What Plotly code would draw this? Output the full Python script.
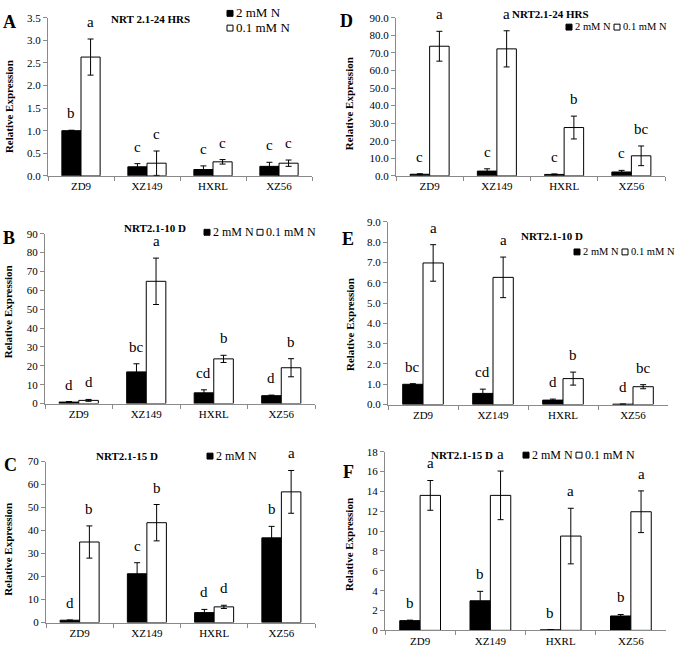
import plotly.graph_objects as go

W, H = 677, 656
FONT = "Liberation Serif, Times New Roman, serif"

categories = ["ZD9", "XZ149", "HXRL", "XZ56"]
series_names = ["2 mM N", "0.1 mM N"]

# Panel A: NRT 2.1-24 HRS
A_2mM = [1.00, 0.20, 0.14, 0.21]
A_2mM_err = [0.01, 0.07, 0.08, 0.09]
A_01mM = [2.63, 0.28, 0.31, 0.28]
A_01mM_err = [0.40, 0.27, 0.05, 0.07]
A_2mM_letters = ["b", "c", "c", "c"]
A_01mM_letters = ["a", "c", "c", "c"]

# Panel B: NRT2.1-10 D
B_2mM = [0.8, 16.8, 5.7, 4.2]
B_2mM_err = [0.3, 4.3, 1.6, 0.3]
B_01mM = [1.7, 64.8, 23.7, 19.0]
B_01mM_err = [0.5, 12.3, 1.9, 4.8]
B_2mM_letters = ["d", "bc", "cd", "d"]
B_01mM_letters = ["d", "a", "b", "b"]

# Panel C: NRT2.1-15 D
C_2mM = [1.0, 21.2, 4.3, 36.8]
C_2mM_err = [0.1, 4.8, 1.4, 5.0]
C_01mM = [35.0, 43.4, 6.8, 56.8]
C_01mM_err = [7.0, 7.9, 0.7, 9.3]
C_2mM_letters = ["d", "c", "d", "b"]
C_01mM_letters = ["b", "b", "d", "a"]

# Panel D: NRT2.1-24 HRS
D_2mM = [0.9, 2.7, 0.8, 2.2]
D_2mM_err = [0.3, 1.3, 0.3, 0.9]
D_01mM = [73.8, 72.3, 27.5, 11.4]
D_01mM_err = [8.5, 10.3, 6.5, 5.6]
D_2mM_letters = ["c", "c", "c", "c"]
D_01mM_letters = ["a", "a", "b", "bc"]

# Panel E: NRT2.1-10 D
E_2mM = [1.00, 0.55, 0.22, 0.02]
E_2mM_err = [0.03, 0.21, 0.05, 0.0]
E_01mM = [6.98, 6.27, 1.28, 0.88]
E_01mM_err = [0.90, 1.00, 0.32, 0.10]
E_2mM_letters = ["bc", "cd", "d", "d"]
E_01mM_letters = ["a", "a", "b", "bc"]

# Panel F: NRT2.1-15 D
F_2mM = [0.98, 2.98, 0.05, 1.45]
F_2mM_err = [0.05, 0.95, 0.0, 0.15]
F_01mM = [13.6, 13.6, 9.5, 11.95]
F_01mM_err = [1.5, 2.45, 2.8, 2.1]
F_2mM_letters = ["b", "b", "b", "b"]
F_01mM_letters = ["a", "a", "a", "a"]

titles = {"A": "NRT 2.1-24 HRS", "B": "NRT2.1-10 D", "C": "NRT2.1-15 D",
          "D": "NRT2.1-24 HRS", "E": "NRT2.1-10 D", "F": "NRT2.1-15 D"}
y_max = {"A": 3.5, "B": 90, "C": 70, "D": 90, "E": 9, "F": 18}
y_dtick = {"A": 0.5, "B": 10, "C": 10, "D": 10, "E": 1, "F": 2}
y_fmt = {"A": ".1f", "B": "d", "C": "d", "D": ".1f", "E": ".1f", "F": "d"}

data = {
    "A": (A_2mM, A_2mM_err, A_01mM, A_01mM_err, A_2mM_letters, A_01mM_letters),
    "B": (B_2mM, B_2mM_err, B_01mM, B_01mM_err, B_2mM_letters, B_01mM_letters),
    "C": (C_2mM, C_2mM_err, C_01mM, C_01mM_err, C_2mM_letters, C_01mM_letters),
    "D": (D_2mM, D_2mM_err, D_01mM, D_01mM_err, D_2mM_letters, D_01mM_letters),
    "E": (E_2mM, E_2mM_err, E_01mM, E_01mM_err, E_2mM_letters, E_01mM_letters),
    "F": (F_2mM, F_2mM_err, F_01mM, F_01mM_err, F_2mM_letters, F_01mM_letters),
}

# ---- layout (pixel geometry) ----
boxes = {
    "A": (48, 312, 12, 173),
    "D": (396, 665, 12, 173),
    "B": (45, 315, 232, 405),
    "E": (388, 668, 220, 406),
    "C": (46, 315, 464, 628),
    "F": (385, 666, 454, 636),
}
panel_label_pos = {"A": (9, 16), "B": (9, 236), "C": (10, 468),
                   "D": (346, 15), "E": (348, 237), "F": (348, 475)}
ytitle_pos = {"A": (9, 103), "B": (8, 312), "C": (8, 554),
              "D": (349, 100), "E": (350, 325), "F": (349, 549)}
title_pos = {"A": (150, 13), "B": (155, 226), "C": (127, 458),
             "D": (550, 8), "E": (552, 234), "F": (462, 457)}
# legend entries: (series index, square left x, y center) and font size
legend_items = {
    "A": ([(0, 227, 7), (1, 227, 22)], 13),
    "B": ([(0, 204, 230), (1, 257, 230)], 12),
    "C": ([(0, 207, 458)], 12),
    "D": ([(0, 566, 21), (1, 614, 21)], 10.5),
    "E": ([(0, 574, 250), (1, 622, 250)], 10.5),
    "F": ([(0, 523, 457), (1, 576, 457)], 12),
}
SQ = 6


def px_x(x):
    return x / W


def px_y(y):
    return 1 - y / H


fig = go.Figure()
annotations = []
shapes = []
BAR_OFF = 0.145

for n, key in enumerate(["A", "B", "C", "D", "E", "F"], start=1):
    xa = "x" if n == 1 else f"x{n}"
    ya = "y" if n == 1 else f"y{n}"
    hi, hi_err, lo, lo_err, hi_let, lo_let = data[key]
    fig.add_trace(go.Bar(
        x=categories, y=hi, name=series_names[0], xaxis=xa, yaxis=ya,
        marker=dict(color="black", line=dict(color="black", width=1)),
        error_y=dict(type="data", array=hi_err, visible=True, color="black", thickness=1, width=3),
        showlegend=False))
    fig.add_trace(go.Bar(
        x=categories, y=lo, name=series_names[1], xaxis=xa, yaxis=ya,
        marker=dict(color="white", line=dict(color="black", width=1)),
        error_y=dict(type="data", array=lo_err, visible=True, color="black", thickness=1, width=3),
        showlegend=False))

    x0, x1, yt, yb = boxes[key]
    axis_common = dict(showline=True, linecolor="#8a8a8a", linewidth=1, showgrid=False,
                       zeroline=False, ticks="outside", ticklen=4, tickcolor="#8a8a8a",
                       tickfont=dict(family=FONT, size=11, color="black"))
    fig.update_layout(**{
        ("xaxis" if n == 1 else f"xaxis{n}"): dict(
            domain=[px_x(x0), px_x(x1)], anchor=ya, type="category",
            tickson="boundaries", range=[-0.5, 3.5], fixedrange=True, **axis_common),
        ("yaxis" if n == 1 else f"yaxis{n}"): dict(
            domain=[px_y(yb), px_y(yt)], anchor=xa, range=[0, y_max[key]],
            dtick=y_dtick[key], tickformat=y_fmt[key], fixedrange=True, **axis_common),
    })

    # significance letters
    for i in range(4):
        for vals, errs, lets, off in ((hi, hi_err, hi_let, -BAR_OFF), (lo, lo_err, lo_let, BAR_OFF)):
            annotations.append(dict(
                x=i + off, y=vals[i] + errs[i], xref=xa, yref=ya, text=lets[i],
                showarrow=False, yanchor="bottom", yshift=7,
                font=dict(family=FONT, size=15, color="black")))

    lx, ly = panel_label_pos[key]
    annotations.append(dict(x=px_x(lx), y=px_y(ly), xref="paper", yref="paper", text=f"<b>{key}</b>",
                            showarrow=False, xanchor="center", yanchor="middle",
                            font=dict(family=FONT, size=18, color="black")))
    tx, ty = ytitle_pos[key]
    annotations.append(dict(x=px_x(tx), y=px_y(ty), xref="paper", yref="paper",
                            text="<b>Relative Expression</b>", textangle=-90,
                            showarrow=False, xanchor="center", yanchor="middle",
                            font=dict(family=FONT, size=11, color="black")))
    cx, cy = title_pos[key]
    annotations.append(dict(x=px_x(cx), y=px_y(cy), xref="paper", yref="paper",
                            text=f"<b>{titles[key]}</b>", showarrow=False,
                            xanchor="center", yanchor="middle",
                            font=dict(family=FONT, size=11, color="black")))
    # legend: small square swatch + label
    items, fs = legend_items[key]
    for si, sx, sy in items:
        fill = "black" if si == 0 else "white"
        shapes.append(dict(type="rect", xref="paper", yref="paper",
                           x0=px_x(sx), x1=px_x(sx + SQ), y0=px_y(sy + SQ / 2 + 0.5),
                           y1=px_y(sy - SQ / 2 + 0.5),
                           fillcolor=fill, line=dict(color="black", width=1)))
        annotations.append(dict(x=px_x(sx + SQ + 1), y=px_y(sy), xref="paper", yref="paper",
                                text=series_names[si], showarrow=False,
                                xanchor="left", yanchor="middle",
                                font=dict(family=FONT, size=fs, color="black")))

fig.update_layout(
    width=W, height=H, margin=dict(l=0, r=0, t=0, b=0),
    paper_bgcolor="white", plot_bgcolor="white",
    barmode="group", bargap=0.42, bargroupgap=0,
    showlegend=False, annotations=annotations, shapes=shapes,
    font=dict(family=FONT, size=11, color="black"),
)

fig.write_html("out.html", config={"displayModeBar": False},
               post_script="document.body.style.margin='0';document.body.style.padding='0';")
